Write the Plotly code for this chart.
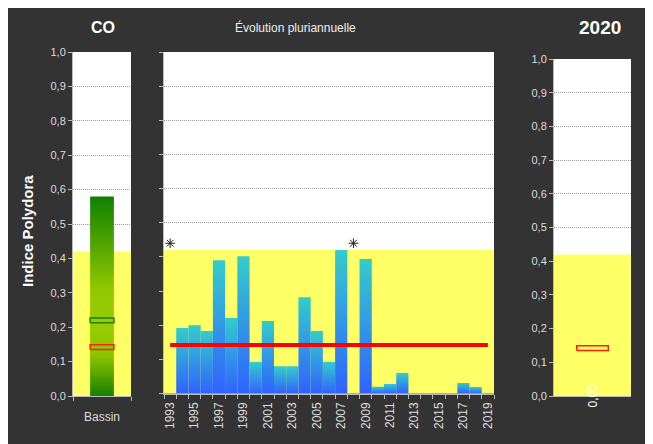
import plotly.graph_objects as go

# ---------------- data ----------------
years = list(range(1993, 2020))
values = [None, 0.192, 0.200, 0.183, 0.390, 0.221, 0.402, 0.092, 0.212, 0.080,
          0.080, 0.282, 0.183, 0.092, 0.420, None, 0.394, 0.020, 0.028, 0.060,
          0.0, 0.0, 0.0, 0.0, 0.031, 0.019, 0.0]
missing_marker_level = 0.44
reference_value = 0.142
threshold = 0.42
basin_label = "Bassin"
basin_max = 0.58
basin_median = 0.22
current_label = "2020"
current_value = 0.0
y_ticks = [i / 10 for i in range(11)]
year_ticks = list(range(1993, 2020, 2))

# ---------------- style ----------------
W, H = 645, 436
BG = "#333333"
YELLOW = "#ffff66"
AXIS = "#bbbbbb"
TICKFONT = dict(family="Liberation Sans, Arial, sans-serif", size=11, color="#dddddd")
MARK_H = 0.014  # thickness of outlined marker boxes
BOX_W = 0.41

def dx(a, b):
    return [a / W, b / W]

def dy(top, bottom):
    return [1 - bottom / H, 1 - top / H]

def rect(x0, x1, y0, y1):
    return [x0, x0, x1, x1, x0], [y0, y1, y1, y0, y0]

fig = go.Figure()

def zone(xa, ya, xr):
    xs, ys = rect(xr[0], xr[1], 0, threshold)
    fig.add_trace(go.Scatter(x=xs, y=ys, fill="toself", fillcolor=YELLOW, mode="lines",
                             line=dict(width=0), xaxis=xa, yaxis=ya,
                             showlegend=False, hoverinfo="skip"))

def box(xa, ya, center, color):
    xs, ys = rect(-BOX_W / 2, BOX_W / 2, center - MARK_H / 2, center + MARK_H / 2)
    fig.add_trace(go.Scatter(x=xs, y=ys, mode="lines", line=dict(color=color, width=1.5),
                             xaxis=xa, yaxis=ya, showlegend=False, hoverinfo="skip"))

X_SINGLE = [-0.5, 0.5]
X_YEARS = [years[0] - 0.5, years[-1] + 0.5]

# ---- left panel : basin gradient bar ----
zone("x", "y", X_SINGLE)
xs, ys = rect(-BOX_W / 2, BOX_W / 2, 0, basin_max)
fig.add_trace(go.Scatter(
    x=xs, y=ys, fill="toself", mode="lines", line=dict(width=0),
    fillgradient=dict(type="vertical", start=0, stop=basin_max,
                      colorscale=[[0, "#177f00"], [0.2, "#8cc400"], [0.35, "#99cc00"],
                                  [0.53, "#92c800"], [1, "#108000"]]),
    xaxis="x", yaxis="y", showlegend=False, hoverinfo="skip"))
box("x", "y", basin_median, "#1a8000")
box("x", "y", reference_value, "#ff2000")

# ---- middle panel : yearly bars with gradient ----
zone("x2", "y2", X_YEARS)
for yr, v in zip(years, values):
    if v is None or v <= 0:
        continue
    xs, ys = rect(yr - 0.5, yr + 0.5, 0, v)
    fig.add_trace(go.Scatter(
        x=xs, y=ys, fill="toself", mode="lines", line=dict(width=0),
        fillgradient=dict(type="vertical", start=0, stop=v,
                          colorscale=[[0, "#3062ff"], [1, "#33cccc"]]),
        xaxis="x2", yaxis="y2", showlegend=False, hoverinfo="skip"))

missing = [yr for yr, v in zip(years, values) if v is None]
fig.add_trace(go.Scatter(
    x=missing, y=[missing_marker_level] * len(missing), mode="markers",
    marker=dict(symbol="asterisk", size=8, line=dict(width=1, color="#222222")),
    xaxis="x2", yaxis="y2", showlegend=False, hoverinfo="skip"))

fig.add_trace(go.Scatter(
    x=[years[0], years[-1]], y=[reference_value, reference_value], mode="lines",
    line=dict(color="#ff0000", width=4),
    xaxis="x2", yaxis="y2", showlegend=False, hoverinfo="skip"))

# ---- right panel ----
zone("x3", "y3", X_SINGLE)
box("x3", "y3", reference_value, "#ff2000")

def yaxis_common(domain, anchor, labels=True):
    return dict(domain=domain, anchor=anchor, range=[0, 1], tickvals=y_ticks,
                tickformat=".1f", showticklabels=labels, tickfont=TICKFONT,
                ticks="outside", ticklen=4, tickcolor=AXIS, automargin=False,
                showgrid=True, gridcolor="#999999", griddash="1px,1px", gridwidth=1,
                zeroline=False, showline=True, linecolor=AXIS, linewidth=1,
                fixedrange=True)

def ann(text, x, y, size, color="white", **kw):
    return dict(text=text, x=x / W, y=1 - y / H, xref="paper", yref="paper",
                xanchor="center", yanchor="middle", showarrow=False,
                font=dict(size=size, color=color), **kw)

fig.update_layout(
    template="none",
    width=W, height=H, margin=dict(l=0, r=0, t=0, b=0, pad=0, autoexpand=False),
    paper_bgcolor=BG, plot_bgcolor="white", separators=",.",
    showlegend=False,
    font=dict(family="Liberation Sans, Arial, sans-serif", color="#dddddd"),
    xaxis=dict(domain=dx(65, 123), anchor="y", range=X_SINGLE, automargin=False,
               tickvals=[0], ticktext=[basin_label], ticks="outside", ticklen=10,
               tickcolor="rgba(0,0,0,0)", tickfont=dict(TICKFONT, size=12),
               minor=dict(tickvals=X_SINGLE, ticks="outside", ticklen=4, tickcolor=AXIS),
               showgrid=False, zeroline=False, showline=True, linecolor=AXIS),
    yaxis=yaxis_common(dy(44, 388), "x"),
    xaxis2=dict(domain=dx(156, 486), anchor="y2", range=X_YEARS, automargin=False,
                tickvals=year_ticks, tickangle=-90, ticks="outside", ticklen=3,
                tickcolor="rgba(0,0,0,0)", tickfont=dict(TICKFONT, size=12),
                minor=dict(tick0=years[0] - 0.5, dtick=1, ticks="outside", ticklen=4,
                           tickcolor=AXIS, showgrid=False),
                showgrid=False, zeroline=False, showline=True, linecolor=AXIS),
    yaxis2=yaxis_common(dy(44, 385.5), "x2", labels=False),
    xaxis3=dict(domain=dx(546, 623), anchor="y3", range=X_SINGLE, automargin=False,
                showticklabels=False, ticks="", showgrid=False, zeroline=False,
                showline=True, linecolor=AXIS),
    yaxis3=yaxis_common(dy(51, 388), "x3"),
    annotations=[
        ann("<b>CO</b>", 95, 19, 16),
        ann("Évolution pluriannuelle", 287, 19, 12, "#eeeeee"),
        ann(f"<b>{current_label}</b>", 592, 20, 19),
        ann("<b>Indice Polydora</b>", 19, 223, 15, textangle=-90),
        dict(text=f"{current_value:.2f}".replace(".", ","), x=0, y=current_value,
             xref="x3", yref="y3", xanchor="center", yanchor="middle",
             textangle=-90, showarrow=False, font=dict(size=12, color="white")),
    ],
)

fig.write_html("out.html")
